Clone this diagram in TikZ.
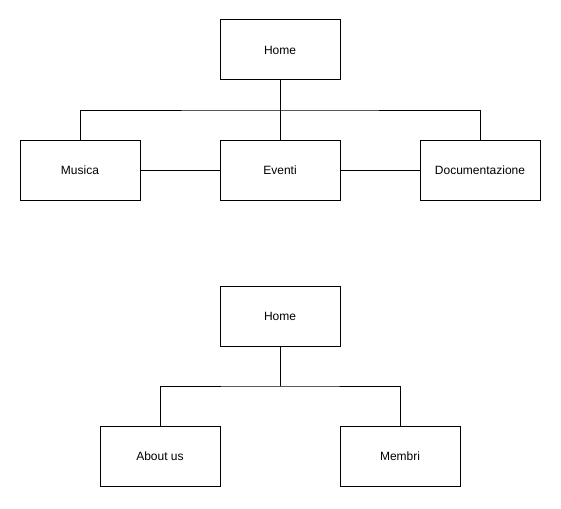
\documentclass[tikz,border=0pt]{standalone}
\usepackage{fontspec}
\setmainfont{Liberation Sans}
\usetikzlibrary{positioning}

\begin{document}
\begin{tikzpicture}[x=1pt,y=-1pt,
    pagebox/.style={draw,line width=1pt,minimum width=120pt,minimum height=60pt,
        inner sep=0pt,font=\fontsize{12}{14}\selectfont},
    link/.style={line width=1pt}]
                \useasboundingbox (0,0) rectangle (561,508);

                % prima mappa
                \node[pagebox] (home1) at (280,50) {Home};
                \node[pagebox] (musica) at (80,170) {Musica};
                \node[pagebox] (eventi) at (280,170) {Eventi};
                \node[pagebox] (docum) at (480,170) {Documentazione};

                \coordinate (split1) at (280,110);
                \draw[link] (home1.south) -- (eventi.north);
                \draw[link] (musica.north) |- (split1) -| (docum.north);
                \draw[link] (musica.east) -- (eventi.west);
                \draw[link] (eventi.east) -- (docum.west);

                % seconda mappa
                \node[pagebox] (home2) at (280,316) {Home};
                \node[pagebox] (about) at (160,456) {About us};
                \node[pagebox] (membri) at (400,456) {Membri};

                \coordinate (split2) at (280,386);
                \draw[link] (home2.south) -- (split2);
                \draw[link] (about.north) |- (split2) -| (membri.north);
            \end{tikzpicture}
\end{document}
